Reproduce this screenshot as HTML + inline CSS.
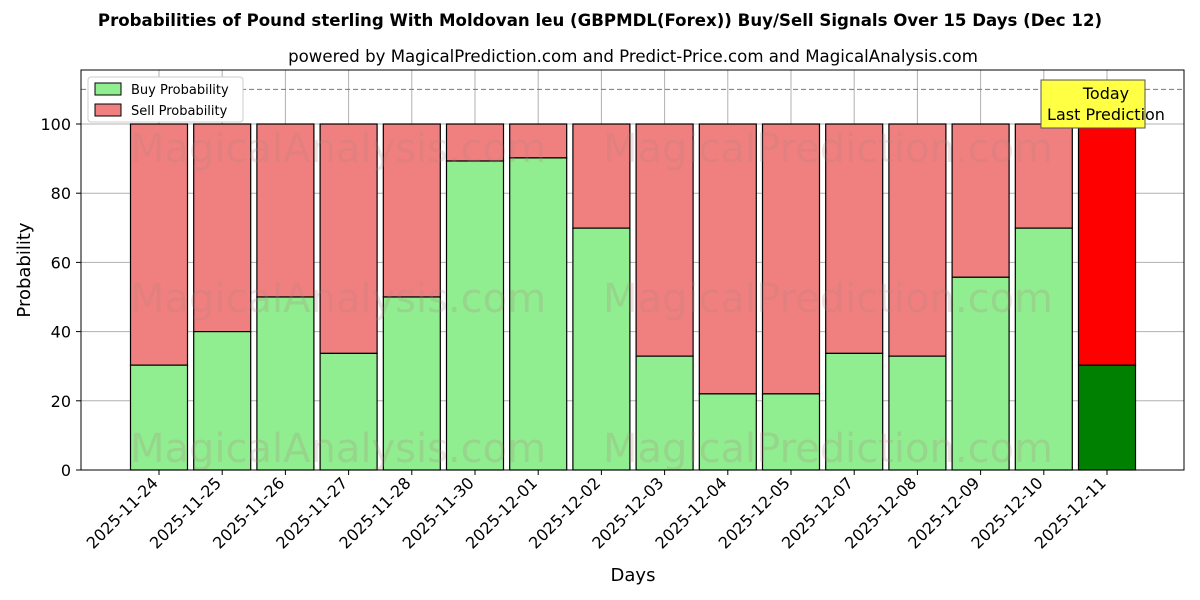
<!DOCTYPE html>
<html><head><meta charset="utf-8"><style>body{margin:0;background:#fff}svg{display:block;font-family:"DejaVu Sans","Liberation Sans",sans-serif}</style></head><body>
<svg width="1200" height="600" viewBox="0 0 1200 600" xmlns="http://www.w3.org/2000/svg">
<text x="600" y="26" text-anchor="middle" font-size="16.6" font-weight="bold">Probabilities of Pound sterling With Moldovan leu (GBPMDL(Forex)) Buy/Sell Signals Over 15 Days (Dec 12)</text>
<text x="633" y="62" text-anchor="middle" font-size="16.6">powered by MagicalPrediction.com and Predict-Price.com and MagicalAnalysis.com</text>
<g id="bars"></g>
<g fill="#b08080" fill-opacity="0.22" font-size="40">
<text x="130" y="162">MagicalAnalysis.com</text><text x="603" y="162">MagicalPrediction.com</text>
<text x="130" y="312">MagicalAnalysis.com</text><text x="603" y="312">MagicalPrediction.com</text>
<text x="130" y="462">MagicalAnalysis.com</text><text x="603" y="462">MagicalPrediction.com</text>
</g>
<line x1="81" y1="89.4" x2="1184" y2="89.4" stroke="#777" stroke-dasharray="5,3"/>
<rect x="81" y="70" width="1103" height="400" fill="none" stroke="#000"/>
<text x="30" y="270" transform="rotate(-90 30 270)" text-anchor="middle" font-size="18">Probability</text>
<text x="633" y="581" text-anchor="middle" font-size="18">Days</text>
<rect x="1041" y="80" width="104" height="48" fill="#ffff44" stroke="#555"/>
<text x="1106" y="99" text-anchor="middle" font-size="16">Today</text>
<text x="1106" y="120" text-anchor="middle" font-size="16">Last Prediction</text>
<rect x="88" y="77" width="155" height="45" fill="#fff" stroke="#ccc" rx="3"/>
<rect x="95" y="83" width="26" height="12" fill="#90ee90" stroke="#000"/>
<text x="131" y="94" font-size="13">Buy Probability</text>
<rect x="95" y="104" width="26" height="12" fill="#f08080" stroke="#000"/>
<text x="131" y="115" font-size="13">Sell Probability</text>
<g id="ax"></g>
</svg>
<script>
var ns="http://www.w3.org/2000/svg";
var buy=[30.3,40,50,33.7,50,89.3,90.2,69.9,32.9,22,22,33.7,32.9,55.7,69.9,30.3];
var d=["2025-11-24","2025-11-25","2025-11-26","2025-11-27","2025-11-28","2025-11-30","2025-12-01","2025-12-02","2025-12-03","2025-12-04","2025-12-05","2025-12-07","2025-12-08","2025-12-09","2025-12-10","2025-12-11"];
var g=document.getElementById("bars"),a=document.getElementById("ax");
function el(t,at,p,txt){var e=document.createElementNS(ns,t);for(var k in at)e.setAttribute(k,at[k]);if(txt)e.textContent=txt;p.appendChild(e);return e;}
function Y(v){return 470-v*3.46;}
for(var v=0;v<=100;v+=20){el("line",{x1:81,x2:1184,y1:Y(v),y2:Y(v),stroke:"#b0b0b0"},g);el("line",{x1:76,x2:81,y1:Y(v),y2:Y(v),stroke:"#000"},a);el("text",{x:71,y:Y(v)+6,"text-anchor":"end","font-size":16},a,String(v));}
for(var i=0;i<16;i++){var c=159+i*63.2;el("line",{x1:c,x2:c,y1:70,y2:470,stroke:"#b0b0b0"},g);}
for(var i=0;i<16;i++){var c=159+i*63.2,l=i==15;
el("rect",{x:c-28.5,y:Y(100),width:57,height:Y(buy[i])-Y(100),fill:l?"#ff0000":"#f08080",stroke:"#000","stroke-width":1.2},g);
el("rect",{x:c-28.5,y:Y(buy[i]),width:57,height:470-Y(buy[i]),fill:l?"#008000":"#90ee90",stroke:"#000","stroke-width":1.2},g);
el("line",{x1:c,x2:c,y1:470,y2:475,stroke:"#000"},a);
el("text",{x:c,y:484,"text-anchor":"end","font-size":16,transform:"rotate(-45 "+c+" 484)"},a,d[i]);}
</script>
</body></html>
